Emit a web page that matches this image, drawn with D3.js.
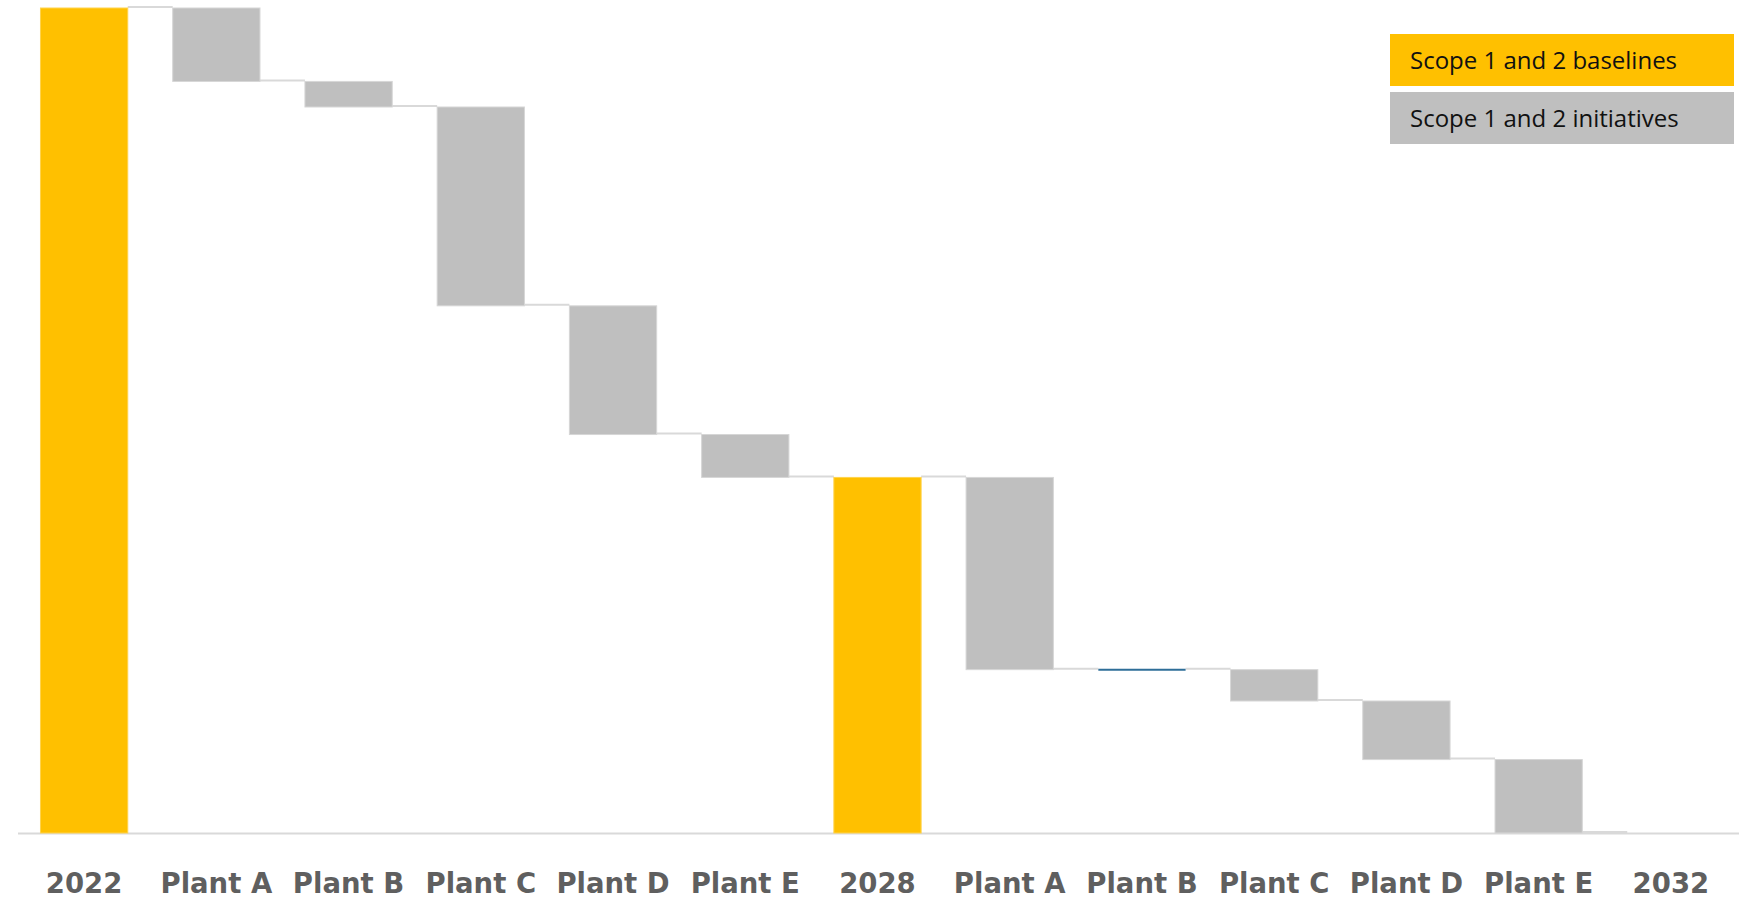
<!DOCTYPE html>
<html>
<head>
<meta charset="utf-8">
<script src="https://cdn.jsdelivr.net/npm/d3@7"></script>
<style>
  html, body { margin: 0; padding: 0; background: #fff; }
  .tick-label { font-family: "DejaVu Sans", sans-serif; font-weight: bold; fill: #5f5f5f; }
  .legend-text { font-family: "Open Sans", sans-serif; fill: #111; }
</style>
</head>
<body>
<div id="chart"></div>
<script>
// Waterfall: Scope 1 and 2 emissions path
const labels = ['2022', 'Plant A', 'Plant B', 'Plant C', 'Plant D', 'Plant E', '2028',
                'Plant A', 'Plant B', 'Plant C', 'Plant D', 'Plant E', '2032'];
const kinds = ['total', 'step', 'step', 'step', 'step', 'step', 'total',
               'step', 'step', 'step', 'step', 'step', 'total'];
// totals are absolute levels, steps are changes
const values = [100, -8.9, -3.1, -24.1, -15.6, -5.2, 43.1, -23.3, 0, -3.8, -7.1, -8.9, 0];

const legendItems = ['Scope 1 and 2 baselines', 'Scope 1 and 2 initiatives'];

const W = 1739, H = 900;
const colors = { total: '#FFC000', step: '#BFBFBF', zero: '#2E6E98' };

// build start/end levels for each bar
let running = 0;
const bars = values.map((v, i) => {
  let start, end;
  if (kinds[i] === 'total') { start = 0; end = v; running = v; }
  else { start = running; end = running + v; running = end; }
  return { i, label: labels[i], kind: kinds[i], value: v, start, end };
});

const svg = d3.select('#chart').append('svg')
  .attr('width', W)
  .attr('height', H);

const x = d3.scaleBand()
  .domain(bars.map(d => d.i))
  .range([18, 1737])
  .paddingInner(0.34)
  .paddingOuter(0.17);

const y = d3.scaleLinear()
  .domain([0, 100])
  .range([833, 8]);

// axis line
svg.append('line')
  .attr('x1', 18).attr('x2', W)
  .attr('y1', y(0) + 0.5).attr('y2', y(0) + 0.5)
  .attr('stroke', '#d9d9d9')
  .attr('stroke-width', 2);

// connectors between bars
const links = bars.slice(0, -1).map((d, k) => ({
  x1: x(d.i) + x.bandwidth(),
  x2: x(bars[k + 1].i),
  level: d.end
}));
svg.selectAll('.connector')
  .data(links)
  .enter().append('line')
  .attr('class', 'connector')
  .attr('x1', d => d.x1)
  .attr('x2', d => d.x2)
  .attr('y1', d => y(d.level) - 1)
  .attr('y2', d => y(d.level) - 1)
  .attr('stroke', '#d9d9d9')
  .attr('stroke-width', 2);

// bars
svg.selectAll('.bar')
  .data(bars.filter(d => d.start !== d.end))
  .enter().append('rect')
  .attr('class', 'bar')
  .attr('x', d => x(d.i))
  .attr('width', x.bandwidth())
  .attr('y', d => y(Math.max(d.start, d.end)))
  .attr('height', d => Math.abs(y(d.start) - y(d.end)))
  .attr('fill', d => colors[d.kind])
  .attr('stroke', d => d.kind === 'total' ? '#ffd34d' : '#d6d6d6')
  .attr('stroke-width', 1);

// zero-change step drawn as a thin blue line
svg.selectAll('.zero-bar')
  .data(bars.filter(d => d.kind === 'step' && d.start === d.end))
  .enter().append('line')
  .attr('class', 'zero-bar')
  .attr('x1', d => x(d.i))
  .attr('x2', d => x(d.i) + x.bandwidth())
  .attr('y1', d => y(d.end))
  .attr('y2', d => y(d.end))
  .attr('stroke', colors.zero)
  .attr('stroke-width', 2);

// category labels
svg.selectAll('.tick-label')
  .data(bars)
  .enter().append('text')
  .attr('class', 'tick-label')
  .attr('x', d => x(d.i) + x.bandwidth() / 2)
  .attr('y', 893)
  .attr('text-anchor', 'middle')
  .style('font-size', '27.5px')
  .text(d => d.label);

// legend
const legend = svg.selectAll('.legend')
  .data(legendItems)
  .enter().append('g')
  .attr('class', 'legend')
  .attr('transform', (d, i) => `translate(1390, ${34 + i * 58})`);

legend.append('rect')
  .attr('width', 344)
  .attr('height', 52)
  .attr('fill', (d, i) => i === 0 ? colors.total : colors.step);

legend.append('text')
  .attr('class', 'legend-text')
  .attr('x', 20)
  .attr('y', 35)
  .style('font-size', '24px')
  .text(d => d);
</script>
</body>
</html>
